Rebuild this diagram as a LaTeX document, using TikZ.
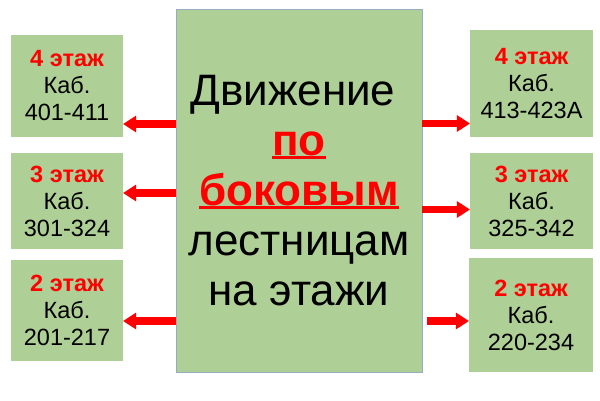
\documentclass[tikz,border=0pt]{standalone}
\usepackage{fontspec}
\setmainfont{Liberation Sans}
\usetikzlibrary{arrows.meta}
\definecolor{boxgreen}{RGB}{174,207,149}
\definecolor{edgeblue}{RGB}{150,172,198}
\newcommand\redul[1]{\setbox0\hbox{#1}\rlap{\rule[-4pt]{\wd0}{3pt}}\box0}
\tikzset{
  floorbox/.style={fill=boxgreen, draw=none, inner sep=0pt, align=center,
    font=\fontsize{23.5}{27}\selectfont},
  mainbox/.style={fill=boxgreen, draw=edgeblue, line width=0.8pt, inner sep=0pt,
    align=center, font=\fontsize{44}{50}\selectfont},
  redarrow/.style={draw=red, line width=7.5pt,
    -{Triangle[length=13pt,width=17pt,line width=0pt]}}
}
\begin{document}
\begin{tikzpicture}[x=1pt,y=-1pt]
\useasboundingbox (0,0) rectangle (600,400);
\fill[white] (0,0) rectangle (600,400);
\node[mainbox, minimum width=246pt, minimum height=363pt] (main) at (299,190.5)
  {Движение\rule{0.278em}{0pt}\\
   {\color{red}\bfseries\redul{по}}\\
   {\color{red}\bfseries\redul{боковым}}\\
   лестницам\\
   на этажи};
\node[floorbox, minimum width=112pt, minimum height=102pt] (l4) at (67,86)
  {{\color{red}\bfseries 4 этаж}\\Каб.\\401-411};
\node[floorbox, minimum width=112pt, minimum height=96pt] (l3) at (67,201)
  {{\color{red}\bfseries 3 этаж}\\Каб.\\301-324};
\node[floorbox, minimum width=112pt, minimum height=101pt] (l2) at (67,310.5)
  {{\color{red}\bfseries 2 этаж}\\Каб.\\201-217};
\node[floorbox, minimum width=123pt, minimum height=107pt] (r4) at (531.5,83.5)
  {{\color{red}\bfseries 4 этаж}\\Каб.\\413-423А};
\node[floorbox, minimum width=123pt, minimum height=96pt] (r3) at (531.5,201)
  {{\color{red}\bfseries 3 этаж}\\Каб.\\325-342};
\node[floorbox, minimum width=124pt, minimum height=114pt] (r2) at (531,315)
  {{\color{red}\bfseries 2 этаж}\\Каб.\\220-234};
\draw[redarrow] (main.west |- 0,124) -- (l4.east |- 0,124);
\draw[redarrow] (main.west |- 0,193) -- (l3.east |- 0,193);
\draw[redarrow] (main.west |- 0,321) -- (l2.east |- 0,321);
\draw[redarrow] (main.east |- 0,123.5) -- (r4.west |- 0,123.5);
\draw[redarrow] (main.east |- 0,209.5) -- (r3.west |- 0,209.5);
\draw[redarrow] ([xshift=5pt]main.east |- 0,321) -- (r2.west |- 0,321);
\end{tikzpicture}
\end{document}
